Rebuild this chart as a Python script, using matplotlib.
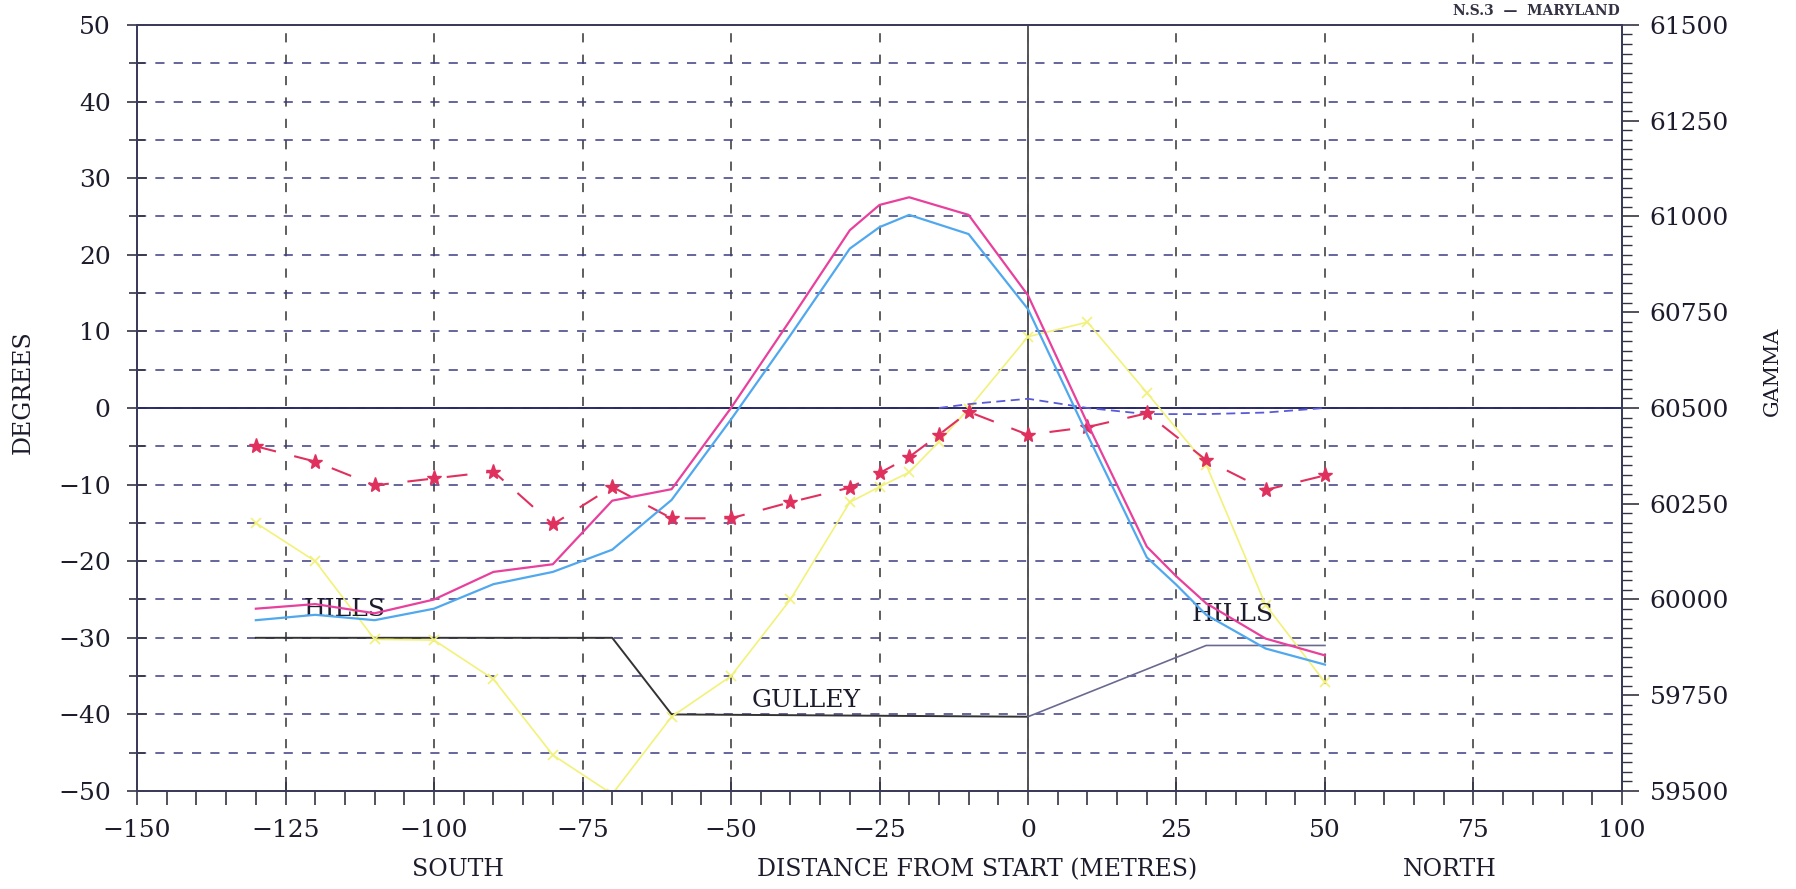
import numpy as np
import matplotlib
matplotlib.use('Agg')
import matplotlib.pyplot as plt
from matplotlib.ticker import MultipleLocator

# total field readings (gamma), right axis
dist_mag = [-130, -120, -110, -100, -90, -80, -70, -60, -50, -40, -30, -25, -20, -10, 0, 10, 20, 25, 30, 40, 50]
gamma_a = [59976, 59988, 59964, 60000, 60072, 60092, 60258, 60288, 60500, 60730, 60964, 61030, 61050, 61004,
           60794, 60460, 60138, 60060, 59990, 59898, 59854]
gamma_b = [59946, 59960, 59946, 59976, 60040, 60072, 60130, 60260, 60470, 60690, 60916, 60972, 61004, 60954,
           60758, 60430, 60110, 60038, 59960, 59872, 59830]

# dip readings (degrees), left axis
dist_dip = [-130, -120, -110, -100, -90, -80, -70, -60, -50, -40, -30, -25, -20, -15, -10, 0, 10, 20, 30, 40, 50]
dip = [-5.0, -7.0, -10.1, -9.2, -8.3, -15.2, -10.3, -14.4, -14.4, -12.3, -10.4, -8.5, -6.4, -3.5, -0.5,
       -3.5, -2.5, -0.7, -6.8, -10.7, -8.8]
incl = [-15.0, -20.0, -30.2, -30.3, -35.4, -45.3, -50.4, -40.3, -35.0, -25.0, -12.3, -10.3, -8.4, -4.4, -0.1,
        9.3, 11.2, 2.0, -7.4, -25.7, -35.8]

dist_small = [-15, -10, 0, 10, 20, 30, 40, 50]
small = [0.0, 0.5, 1.2, 0.0, -0.8, -0.8, -0.6, 0.0]

# ground profile
dist_ground = [-130, -70, -60, 0, 30, 50]
ground = [-30, -30, -40, -40.3, -31, -31]

plt.rcParams['font.family'] = 'DejaVu Serif'
ink = '#1c1c2c'

fig = plt.figure(figsize=(17.96, 8.89), dpi=100)
ax = fig.add_axes([0.0763, 0.1102, 0.8268, 0.8618])
ax2 = ax.twinx()

ax.set_xlim(-150, 100)
ax.set_ylim(-50, 50)
ax2.set_ylim(59500, 61500)

ax.xaxis.set_major_locator(MultipleLocator(25))
ax.xaxis.set_minor_locator(MultipleLocator(5))
ax.yaxis.set_major_locator(MultipleLocator(10))
ax.yaxis.set_minor_locator(MultipleLocator(5))
ax2.yaxis.set_major_locator(MultipleLocator(250))
ax2.yaxis.set_minor_locator(MultipleLocator(25))

ax.grid(axis='y', which='both', ls=(0, (6, 6)), color='#3c3c84', lw=1.1)
ax.grid(axis='x', which='major', ls=(0, (6, 8)), color='#333333', lw=1.1)
ax.axhline(0, color='#2a2a6a', lw=1.4)
ax.axvline(0, color='#555555', lw=1.4)

ax.tick_params(axis='y', which='major', direction='inout', length=14, width=1.2,
               labelsize=18, pad=12, colors='#333344', labelcolor=ink)
ax.tick_params(axis='y', which='minor', direction='inout', length=12, width=1.2, colors='#333344')
ax.tick_params(axis='x', which='major', direction='inout', length=20, width=1.2,
               labelsize=18, pad=10, colors='#333344', labelcolor=ink)
ax.tick_params(axis='x', which='minor', direction='out', length=10, width=1.2, colors='#333344')
ax2.tick_params(axis='y', which='major', direction='out', length=12, width=1.2,
                labelsize=18, pad=8, colors='#333344', labelcolor=ink)
ax2.tick_params(axis='y', which='minor', direction='out', length=7, width=1.0, colors='#333344')
for a in (ax, ax2):
    for s in a.spines.values():
        s.set_color('#3a3a5a')
        s.set_linewidth(1.3)

ax.set_xticks([-150, -125, -100, -75, -50, -25, 0, 25, 50, 75, 100])
ax.set_xticklabels(['\u2212150', '\u2212125', '\u2212100', '\u221275', '\u221250', '\u221225',
                    '0', '25', '50', '75', '100'])

# data
ax.plot(dist_ground[:4], ground[:4], color='#333333', lw=1.4)
ax.plot(dist_ground[3:], ground[3:], color='#6a6a90', lw=1.2)
ax.plot(dist_dip, incl, color='#f2f27a', lw=1.2, marker='x', ms=7, mew=1.2)
ax.plot(dist_small, small, color='#5a5ad8', lw=1.3, ls=(0, (5, 3)))
ax.plot(dist_dip, dip, color='#e0305e', lw=1.5, ls=(0, (10, 9)), marker='*', ms=11)
ax2.plot(dist_mag, gamma_a, color='#e8409c', lw=1.6)
ax2.plot(dist_mag, gamma_b, color='#50a8ee', lw=1.6)

ax.text(-122, -26.3, 'HILLS', fontsize=18, va='center', color=ink)
ax.text(27.5, -27, 'HILLS', fontsize=18, va='center', color=ink)
ax.text(-46.5, -38.2, 'GULLEY', fontsize=18, va='center', color=ink)

fig.text(0.0128, 0.559, 'DEGREES', rotation=90, ha='center', va='center', fontsize=17, color=ink)
fig.text(0.987, 0.582, 'GAMMA', rotation=90, ha='center', va='center', fontsize=15, color=ink)
fig.text(0.255, 0.0214, 'SOUTH', ha='center', va='center', fontsize=17, color=ink)
fig.text(0.544, 0.0214, 'DISTANCE FROM START (METRES)', ha='center', va='center', fontsize=17, color=ink)
fig.text(0.807, 0.0214, 'NORTH', ha='center', va='center', fontsize=17, color=ink)
fig.text(0.809, 0.9955, 'N.S.3  \u2014  MARYLAND', ha='left', va='top', fontsize=10,
         fontweight='bold', color='#333344')

plt.savefig('out.png', dpi=100)
